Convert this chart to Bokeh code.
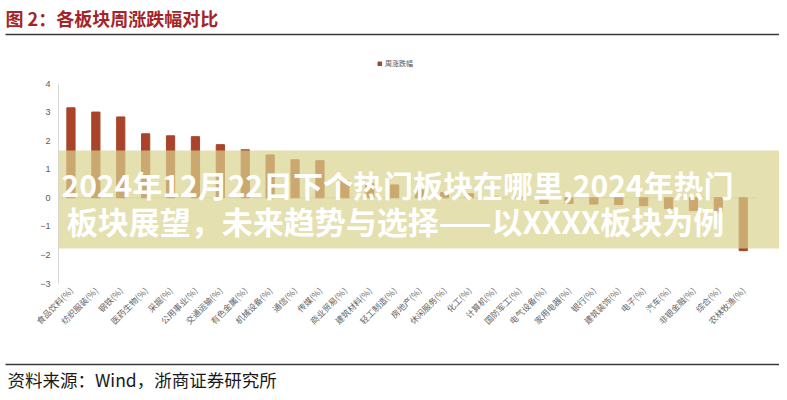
from bokeh.plotting import figure
from bokeh.layouts import column
from bokeh.models import (Range1d, FixedTicker, Label, BoxAnnotation, Legend, LegendItem,
                          ColumnDataSource)
from bokeh.core.properties import value
from bokeh.embed import file_html
from bokeh.resources import INLINE
import math

# ---- data ----
sectors = ["食品饮料(%)", "纺织服装(%)", "钢铁(%)", "医药生物(%)", "采掘(%)", "公用事业(%)",
           "交通运输(%)", "有色金属(%)", "机械设备(%)", "通信(%)", "传媒(%)", "商业贸易(%)",
           "建筑材料(%)", "轻工制造(%)", "房地产(%)", "休闲服务(%)", "化工(%)", "计算机(%)",
           "国防军工(%)", "电气设备(%)", "家用电器(%)", "银行(%)", "建筑装饰(%)", "电子(%)",
           "汽车(%)", "非银金融(%)", "综合(%)", "农林牧渔(%)"]
weekly_change = [3.15, 3.00, 2.83, 2.24, 2.17, 2.14, 1.86, 1.68, 1.50, 1.33, 1.30, 0.60,
                 0.50, 0.45, 0.28, 0.18, 0.14, 0.05, 0.02, -0.20, -0.20, -0.22, -0.24, -0.28,
                 -0.38, -0.45, -0.50, -1.85]
y_ticks = [-3, -2, -1, 0, 1, 2, 3, 4]
series_name = "周涨跌幅"
title_text = "图 2：各板块周涨跌幅对比"
source_text = "资料来源：Wind，浙商证券研究所"
banner_line1 = "2024年12月22日下个热门板块在哪里,2024年热门"
banner_line2 = "板块展望，未来趋势与选择——以XXXX板块为例"

BAR = "#A9442B"
CJK = "Noto Sans CJK SC"
W = 779


def no_align(fig):
    try:
        fig.frame_align = False
    except Exception:
        pass


# ---------------- header ----------------
head = figure(width=W, height=40, output_backend="svg", toolbar_location=None,
              x_range=Range1d(0, W), y_range=Range1d(40, 0),
              min_border=0, x_axis_type=None, y_axis_type=None)
no_align(head)
head.outline_line_color = None
head.grid.visible = False
head.text(x=[5], y=[17], text=[title_text], text_font=value(CJK), text_font_size="18px",
          text_font_style="bold", text_color="#A42428", text_baseline="middle", text_align="left")
head.segment(x0=[5], x1=[W], y0=[34], y1=[34], line_color="#3a3a3a", line_width=1.5)

# ---------------- main chart ----------------
n = len(sectors)
idx = list(range(n))
step = 24.9  # px per category
frame_left, frame_top, frame_bottom = 58, 18, 243
main_h = 322
x_end = -0.5 + (W - frame_left) / step

src = ColumnDataSource(dict(x=idx, val=weekly_change))

p = figure(width=W, height=main_h, output_backend="svg", toolbar_location=None,
           x_range=Range1d(-0.5, x_end), y_range=Range1d(-3, 4.875),
           min_border_left=frame_left, min_border_right=0, min_border_top=frame_top,
           min_border_bottom=main_h - frame_bottom)
no_align(p)
p.outline_line_color = None
p.grid.grid_line_color = None

# zero line across the category span
p.segment(x0=[-0.5], x1=[n - 0.5], y0=[0], y1=[0], line_color="#d9d9d9", line_width=1)
r = p.vbar(x="x", top="val", width=0.33, source=src, color=BAR)

p.yaxis.ticker = FixedTicker(ticks=y_ticks)
p.yaxis.bounds = (min(y_ticks), max(y_ticks))
p.yaxis.axis_line_color = "#d9d9d9"
p.yaxis.major_tick_line_color = None
p.yaxis.major_tick_out = 0
p.yaxis.major_tick_in = 0
p.yaxis.minor_tick_line_color = None
p.yaxis.major_label_text_font_size = "9px"
p.yaxis.major_label_text_color = "#595959"
p.yaxis.major_label_text_font = "Liberation Sans"
p.yaxis.major_label_standoff = 8

p.xaxis.ticker = FixedTicker(ticks=idx)
p.xaxis.major_label_overrides = {i: s for i, s in zip(idx, sectors)}
p.xaxis.axis_line_color = None
p.xaxis.major_tick_line_color = None
p.xaxis.major_tick_out = 0
p.xaxis.major_tick_in = 0
p.xaxis.minor_tick_line_color = None
p.xaxis.major_label_orientation = math.pi / 4
p.xaxis.major_label_text_font_size = "8.5px"
p.xaxis.major_label_text_color = "#666666"
p.xaxis.major_label_text_font = CJK
p.xaxis.major_label_standoff = 5

legend = Legend(items=[LegendItem(label=series_name, renderers=[r])],
                location=(319, 215), glyph_width=5, glyph_height=5, label_height=7,
                label_text_font_size="7px", label_text_color="#555555", label_text_font=CJK,
                label_standoff=3, padding=0, margin=0, spacing=0,
                border_line_color=None, background_fill_alpha=0)
p.add_layout(legend, "center")

# banner overlay (frame-relative screen units, y measured up from frame bottom)
p.add_layout(BoxAnnotation(top=133, bottom=35, top_units="screen", bottom_units="screen",
                           fill_color="#D8D38E", fill_alpha=0.7, line_color=None,
                           level="overlay"))
for txt, xx, yy, fs in [(banner_line1, 339, 100, "30px"), (banner_line2, 337, 63, "31px")]:
    p.add_layout(Label(x=xx, y=yy, x_units="screen", y_units="screen", text=txt,
                       text_font=CJK, text_font_size=fs, text_font_style="bold",
                       text_color="white", text_baseline="middle", text_align="center",
                       level="overlay"))

# ---------------- footer ----------------
foot = figure(width=W, height=30, output_backend="svg", toolbar_location=None,
              x_range=Range1d(0, W), y_range=Range1d(392, 362),
              min_border=0, x_axis_type=None, y_axis_type=None)
no_align(foot)
foot.outline_line_color = None
foot.grid.visible = False
foot.segment(x0=[5], x1=[W], y0=[364], y1=[364], line_color="#3a3a3a", line_width=1.5)
foot.text(x=[7], y=[379], text=[source_text], text_font=value(CJK), text_font_size="17.5px",
          text_color="#1a1a1a", text_baseline="middle", text_align="left")

layout = column(head, p, foot, spacing=0)
open("out.html", "w").write(file_html(layout, INLINE))
